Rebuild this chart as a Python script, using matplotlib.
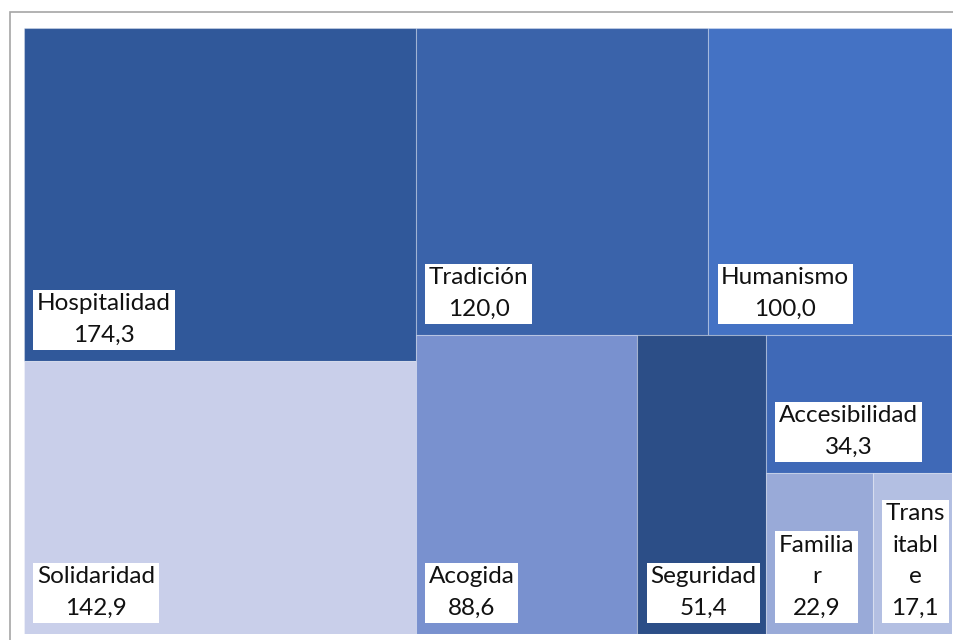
import matplotlib.pyplot as plt
from matplotlib.patches import Rectangle

# data
names = ['Hospitalidad', 'Solidaridad', 'Tradición', 'Humanismo', 'Acogida',
         'Seguridad', 'Accesibilidad', 'Familiar', 'Transitable']
values = [174.3, 142.9, 120.0, 100.0, 88.6, 51.4, 34.3, 22.9, 17.1]
# labels as the chart wraps them in the narrow tiles
shown = ['Hospitalidad', 'Solidaridad', 'Tradición', 'Humanismo', 'Acogida',
         'Seguridad', 'Accesibilidad', 'Familia\nr', 'Trans\nitabl\ne']
colors = ['#30589a', '#c9cfea', '#3a63aa', '#4472c4', '#7991cf',
          '#2c4e87', '#3f69b7', '#99aad8', '#b3bfe2']

plt.rcParams['font.family'] = ['Lato', 'DejaVu Sans']

W, H = 954, 640
fig = plt.figure(figsize=(W / 100, H / 100), dpi=100)

# grey chart frame (runs off the right and bottom edges)
fig.add_artist(Rectangle((10 / W, -0.1), 1.1, 1 - 12 / H + 0.1,
                         transform=fig.transFigure, fill=False,
                         edgecolor='#a6a6a6', linewidth=1.2))

ax = fig.add_axes([24 / W, 6 / H, 928 / W, 606 / H])
ax.set_xlim(0, 1)
ax.set_ylim(1, 0)
ax.axis('off')


def split(vals, x, y, w, h, vertical):
    """slice rectangle (x, y, w, h) among vals; y grows downwards"""
    tot = sum(vals)
    out = []
    for v in vals:
        if vertical:
            hh = h * v / tot
            out.append((x, y, w, hh))
            y += hh
        else:
            ww = w * v / tot
            out.append((x, y, ww, h))
            x += ww
    return out


total = sum(values)
# left column: Hospitalidad / Solidaridad
left = sum(values[:2])
lw = left / total
rects = split(values[:2], 0, 0, lw, 1, True)
# right block: top row and bottom row
rest = values[2:]
top_h = sum(rest[:2]) / sum(rest)
rects += split(rest[:2], lw, 0, 1 - lw, top_h, False)
bottom = rest[2:4] + [sum(rest[4:])]
brow = split(bottom, lw, top_h, 1 - lw, 1 - top_h, False)
rects += brow[:2]
gx, gy, gw, gh = brow[2]
grp = split([rest[4], sum(rest[5:])], gx, gy, gw, gh, True)
rects.append(grp[0])
fx, fy, fw, fh = grp[1]
rects += split(rest[5:], fx, fy, fw, fh, False)

for (x, y, w, h), c, lab, v in zip(rects, colors, shown, values):
    ax.add_patch(Rectangle((x, y), w, h, facecolor=c,
                           edgecolor=(1, 1, 1, 0.3), linewidth=0.8))
    txt = lab + '\n' + f'{v:.1f}'.replace('.', ',')
    ax.annotate(txt, xy=(x, y + h), xytext=(13, 15),
                textcoords='offset pixels', ha='left', va='bottom',
                multialignment='center', fontsize=17.5, color='#111111',
                linespacing=1.62,
                bbox=dict(boxstyle='square,pad=0.15', facecolor='white',
                          edgecolor='none'))

fig.savefig('out.png', dpi=100)
